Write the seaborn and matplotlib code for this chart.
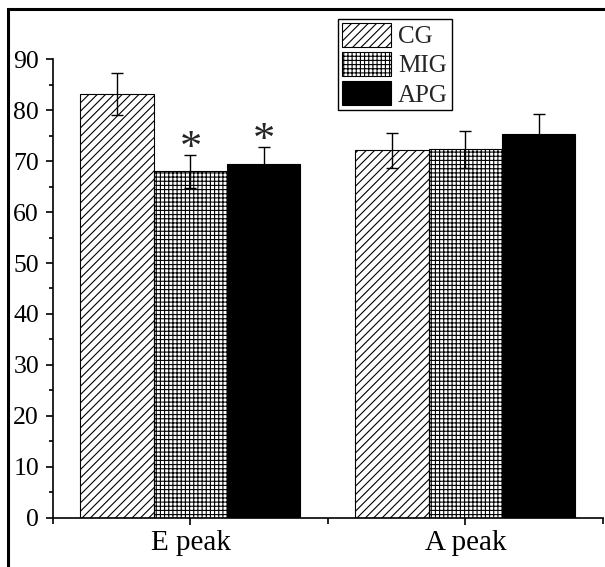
import matplotlib
matplotlib.use('Agg')
import matplotlib.pyplot as plt
import numpy as np
import pandas as pd
import seaborn as sns
from matplotlib.patches import Rectangle
from matplotlib.ticker import MultipleLocator, FixedLocator

groups = ['E peak', 'A peak']
series = ['CG', 'MIG', 'APG']

cg_mean = [83.2, 72.1]
cg_err = [4.2, 3.5]
mig_mean = [68.0, 72.3]
mig_err = [3.3, 3.6]
apg_mean = [69.4, 75.3]
apg_err = [3.4, 3.9]
# which bars get a star (vs CG)
mig_star = [True, False]
apg_star = [True, False]

means = [cg_mean, mig_mean, apg_mean]
errs = [cg_err, mig_err, apg_err]
stars = [[False, False], mig_star, apg_star]

df = pd.DataFrame({
    'peak': groups * 3,
    'group': [s for s in series for _ in groups],
    'value': cg_mean + mig_mean + apg_mean,
})

sns.set_style('ticks')
plt.rcParams['font.family'] = ['Liberation Serif', 'DejaVu Serif']
plt.rcParams['hatch.linewidth'] = 0.8

fig = plt.figure(figsize=(6.05, 5.67), dpi=100)
ax = fig.add_axes([0.0876, 0.087, 0.909, 0.8084])

ax = sns.barplot(data=df, x='peak', y='value', hue='group', order=groups,
                 hue_order=series, palette=['white', 'white', 'black'],
                 edgecolor='black', linewidth=0.8, saturation=1, ax=ax,
                 errorbar=None)

bar_conts = list(ax.containers)
hatches = ['////', '++++', '']
for cont, h, m, e, st in zip(bar_conts, hatches, means, errs, stars):
    xs = []
    for bar in cont.patches:
        bar.set_hatch(h)
        bar.set_edgecolor('black')
        xs.append(bar.get_x() + bar.get_width() / 2)
    ax.errorbar(xs, m, yerr=e, fmt='none', ecolor='black', elinewidth=1,
                capsize=4.5, capthick=1, zorder=5)
    for x, y, s, flag in zip(xs, m, e, st):
        if flag:
            ax.text(x, y + s - 2.8, '*', ha='center', va='bottom',
                    fontsize=32, zorder=6)

ax.set_ylim(0, 90)
ax.set_xlim(-0.5, 1.5)
ax.yaxis.set_major_locator(MultipleLocator(10))
ax.yaxis.set_minor_locator(MultipleLocator(5))
ax.xaxis.set_minor_locator(FixedLocator([-0.5, 0.5, 1.5]))
ax.set_xlabel('')
ax.set_ylabel('')
sns.despine(ax=ax)
for sp in ['left', 'bottom']:
    ax.spines[sp].set_linewidth(1.2)
    ax.spines[sp].set_color('black')
ax.tick_params(axis='y', which='major', length=5, width=1.2, labelsize=18.5,
               color='black', labelcolor='black', pad=5)
ax.tick_params(axis='y', which='minor', length=3, width=1.2, color='black')
ax.tick_params(axis='x', which='major', length=5, width=1.2, labelsize=21,
               color='black', labelcolor='black', pad=4)
ax.tick_params(axis='x', which='minor', length=4, width=1.2, color='black')

leg = ax.get_legend()
if leg is not None:
    leg.remove()
handles = [c.patches[0] for c in bar_conts]
leg = ax.legend(handles, series, loc='upper left',
                bbox_to_anchor=(0.5587, 0.9665), bbox_transform=fig.transFigure,
                fontsize=18, frameon=True, fancybox=False, framealpha=1,
                edgecolor='black', handlelength=1.95, handleheight=1.1,
                labelspacing=0.15, borderpad=0.15, handletextpad=0.3,
                borderaxespad=0)
leg.get_frame().set_linewidth(1.0)

# outer frame around the figure
frame = Rectangle((7.5 / 605, -0.1), 1.2, 1.1 - 8.7 / 567,
                  transform=fig.transFigure, fill=False, edgecolor='black',
                  linewidth=2.2, clip_on=False)
fig.patches.append(frame)

fig.savefig('out.png', dpi=100)
